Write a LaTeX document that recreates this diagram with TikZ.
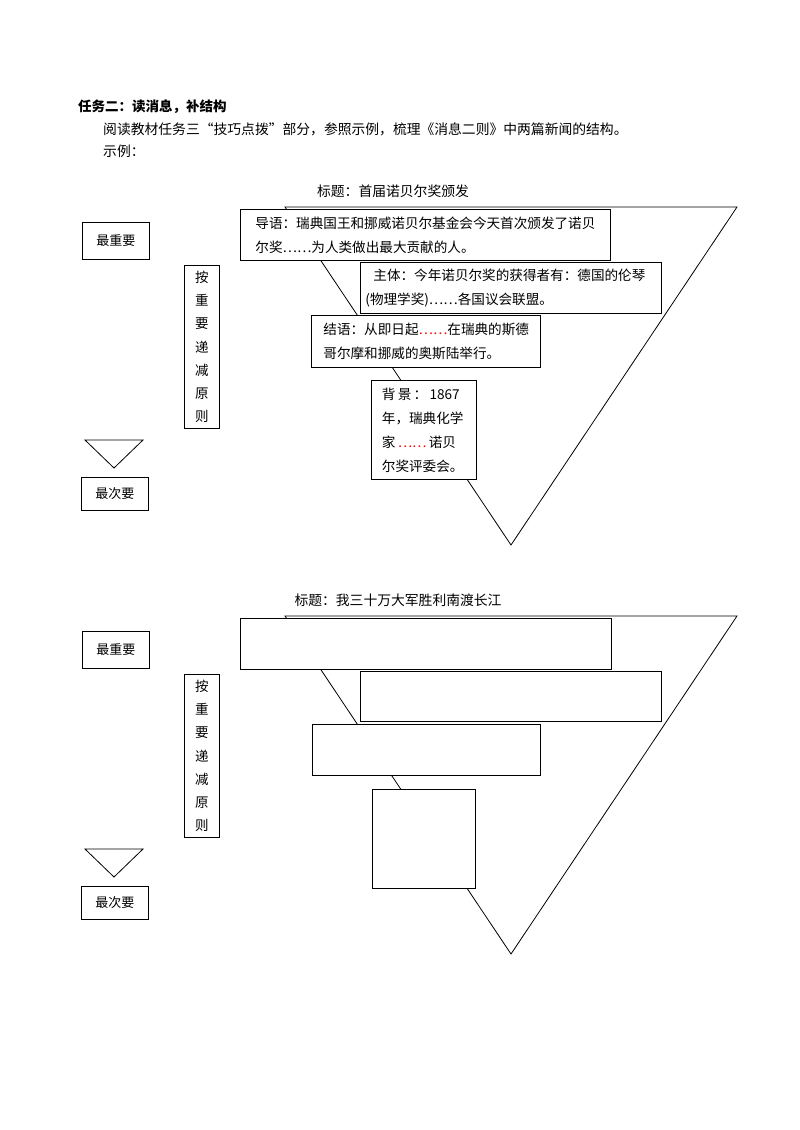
\documentclass[tikz,border=0pt]{standalone}
\usepackage{fontspec}
\setmainfont{Noto Sans CJK SC}
\usetikzlibrary{positioning}
\tikzset{
  box/.style={draw,thick,fill=white,anchor=north west,inner sep=0pt,
    align=left,font=\fontsize{13.6}{24}\selectfont},
  tag/.style={draw,thick,anchor=north west,inner sep=0pt,
    font=\fontsize{13}{16}\selectfont},
  hdr/.style={anchor=west,inner sep=0pt,font=\fontsize{13.8}{16}\selectfont}
}
\newcommand{\rdots}{\textcolor{red}{……}}
% one panel: left labels and the big triangle
\newcommand{\panelframe}[2]{%
  \def\yo{#1}%
  \node[tag,minimum width=67pt,minimum height=37pt] (most#2) at (82,222+\yo) {最重要};%
  \node[tag,minimum width=35pt,minimum height=163pt,font=\fontsize{13.5}{23.3}\selectfont,align=center] (rule#2) at (184,265+\yo) {按\\重\\要\\递\\减\\原\\则};%
  \coordinate (sa#2) at (85,440+\yo);%
  \coordinate (sb#2) at (143,440+\yo);%
  \coordinate (sc#2) at (114,468+\yo);%
  \draw[thick] (sa#2) -- (sb#2) -- (sc#2) -- cycle;%
  \node[tag,minimum width=67pt,minimum height=33pt] (least#2) at (81,477+\yo) {最次要};%
  \coordinate (ta#2) at (285,207+\yo);%
  \coordinate (tb#2) at (737,207+\yo);%
  \coordinate (tc#2) at (511,545+\yo);%
  \draw[thick] (ta#2) -- (tb#2) -- (tc#2) -- cycle;%
}
\begin{document}
\begin{tikzpicture}[x=1pt,y=-1pt]
\useasboundingbox (0,0) rectangle (800,1130);
\node[hdr,font=\fontsize{13.5}{16}\selectfont\bfseries] (task) at (78,107) {任务二：读消息，补结构};
\node[hdr] (intro) at (103,129) {阅读教材任务三“技巧点拨”部分，参照示例，梳理《消息二则》中两篇新闻的结构。};
\node[hdr] (eg) at (103,151) {示例：};
%
\panelframe{0}{A}
\node[hdr,anchor=center] (titleA) at (393,191) {标题：首届诺贝尔奖颁发};
\node[box,minimum width=370pt,minimum height=51pt,text width=360pt] (leadA) at (240,209)
  {\hspace*{10pt}导语：瑞典国王和挪威诺贝尔基金会今天首次颁发了诺贝\\\hspace*{10pt}尔奖……为人类做出最大贡献的人。};
\node[box,minimum width=301pt,minimum height=51pt,text width=295pt] (bodyA) at (360,262)
  {\hspace*{10pt}主体：今年诺贝尔奖的获得者有：德国的伦琴\\\hspace*{2pt}(物理学奖)……各国议会联盟。};
\node[box,minimum width=229pt,minimum height=52pt,text width=225pt] (endA) at (311,315)
  {\hspace*{10pt}结语：从即日起\rdots 在瑞典的斯德\\\hspace*{10pt}哥尔摩和挪威的奥斯陆举行。};
\node[box,minimum width=105pt,minimum height=99pt,text width=102pt] (backA) at (371,380)
  {\hspace*{9pt}背\,景\,：\,1867\\\hspace*{9pt}年，瑞典化学\\\hspace*{9pt}家\,\rdots\,诺贝\\\hspace*{9pt}尔奖评委会。};
%
\panelframe{409}{B}
\node[hdr,anchor=center] (titleB) at (398,600) {标题：我三十万大军胜利南渡长江};
\node[box,minimum width=371pt,minimum height=51pt] (leadB) at (240,618) {};
\node[box,minimum width=301pt,minimum height=50pt] (bodyB) at (360,671) {};
\node[box,minimum width=228pt,minimum height=51pt] (endB) at (312,724) {};
\node[box,minimum width=103pt,minimum height=99pt] (backB) at (372,789) {};
\end{tikzpicture}
\end{document}
